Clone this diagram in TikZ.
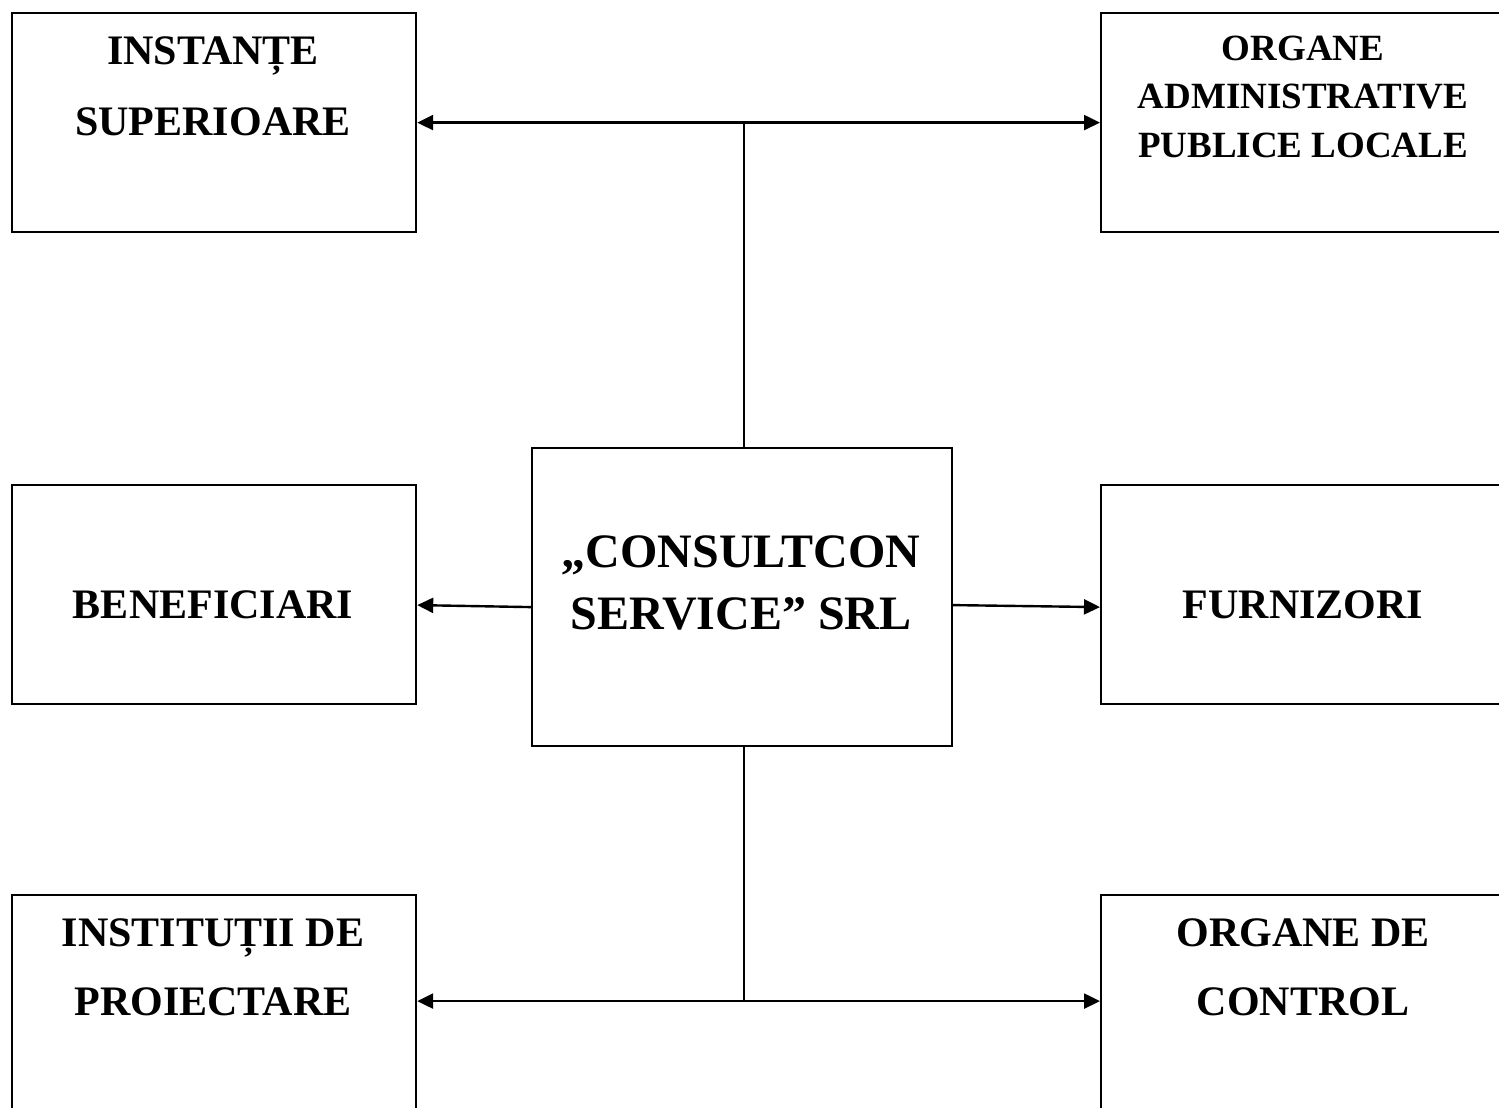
\documentclass[tikz,border=0pt]{standalone}
\usepackage{fontspec}
\setmainfont{Liberation Serif}
\usetikzlibrary{arrows.meta}
\tikzset{
  box/.style={draw, line width=2.2pt, inner sep=0pt, anchor=north west},
  conn/.style={line width=2.4pt},
  tip/.style={-{Triangle[length=16pt,width=15pt]}},
  tiptwo/.style={{Triangle[length=16pt,width=15pt]}-{Triangle[length=16pt,width=15pt]}},
  lbl/.style={anchor=base, inner sep=0pt, font=\bfseries\fontsize{42}{50}\selectfont},
  lblsmall/.style={anchor=base, inner sep=0pt, font=\bfseries\fontsize{37}{44}\selectfont},
  lblbig/.style={anchor=base, inner sep=0pt, font=\bfseries\fontsize{48}{56}\selectfont}
}
\begin{document}
\begin{tikzpicture}[x=1pt,y=-1pt]
\useasboundingbox (0,0) rectangle (1499,1108);
\clip (0,0) rectangle (1499,1108);
\fill[white] (0,0) rectangle (1499,1108);
% boxes
\node[box, minimum width=404pt, minimum height=219pt] (tl) at (11,12) {};
\node[box, minimum width=406pt, minimum height=219pt] (tr) at (1100,12) {};
\node[box, minimum width=404pt, minimum height=219pt] (ml) at (11,484) {};
\node[box, minimum width=406pt, minimum height=219pt] (mr) at (1100,484) {};
\node[box, minimum width=420pt, minimum height=298pt] (c) at (531,447) {};
\node[box, minimum width=404pt, minimum height=230pt] (bl) at (11,894) {};
\node[box, minimum width=406pt, minimum height=230pt] (br) at (1100,894) {};
% texts
\node[lbl] (t1a) at (213,64) {INSTANȚE};
\node[lbl] (t1b) at (213,135) {SUPERIOARE};
\node[lblsmall] (t2a) at (1303,60) {ORGANE};
\node[lblsmall] (t2b) at (1303,108) {ADMINISTRATIVE};
\node[lblsmall] (t2c) at (1303,157) {PUBLICE LOCALE};
\node[lblbig] (tca) at (741,567) {„CONSULTCON};
\node[lblbig] (tcb) at (741,629) {SERVICE” SRL};
\node[lbl] (t3) at (213,618) {BENEFICIARI};
\node[lbl] (t4) at (1303,618) {FURNIZORI};
\node[lbl] (t5a) at (213,946) {INSTITUȚII DE};
\node[lbl] (t5b) at (213,1015) {PROIECTARE};
\node[lbl] (t6a) at (1303,946) {ORGANE DE};
\node[lbl] (t6b) at (1303,1015) {CONTROL};
% connectors
\coordinate (cn) at ([xshift=2pt]c.north);
\coordinate (cs) at ([xshift=2pt]c.south);
\draw[conn, tiptwo] (tl.east) -- (tr.west);
\draw[conn] (cn) -- (cn |- tl.east);
\draw[conn, tip] ([yshift=-10pt]c.west) -- ([yshift=-10.5pt]ml.east);
\draw[conn, tip] ([yshift=-8pt]c.east) -- ([yshift=-12.5pt]mr.west);
\coordinate (bj) at ([yshift=9pt]bl.east);
\coordinate (bk) at ([yshift=9pt]br.west);
\draw[conn, tiptwo] (bj) -- (bk);
\draw[conn] (cs) -- (cs |- bj);
\end{tikzpicture}
\end{document}
